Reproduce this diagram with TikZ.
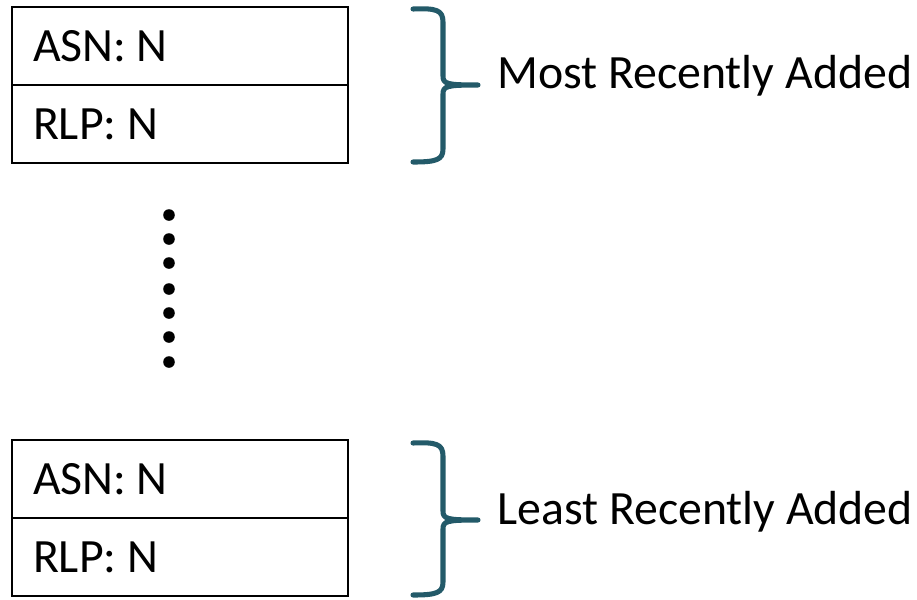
\documentclass[tikz,border=0pt]{standalone}
\usepackage{fontspec}
\setmainfont{Carlito}
\definecolor{bracecol}{RGB}{35,90,105}

\tikzset{
  cell/.style={draw, line width=1.1pt, minimum width=8.4cm, minimum height=1.95cm,
    inner xsep=0.525cm, text width=7.35cm, align=left, outer sep=0pt},
  bracepath/.style={draw=bracecol, line width=3.6pt, line cap=round, line join=round},
}
\newcommand{\cellgap}{\kern0.22em}

\begin{document}
\begin{tikzpicture}[x=0.025cm, y=-0.025cm, font=\fontsize{34pt}{40pt}\selectfont]
  \useasboundingbox (0,0) rectangle (917,600);
  % top pair of cells
  \node [cell, anchor=north west] (asnTop) at (12,7) {ASN:\cellgap N};
  \node [cell, anchor=north] (rlpTop) at (asnTop.south) {RLP:\cellgap N};
  % bottom pair of cells
  \node [cell, anchor=north west] (asnBot) at (12,440) {ASN:\cellgap N};
  \node [cell, anchor=north] (rlpBot) at (asnBot.south) {RLP:\cellgap N};
  % dots in between
  \foreach \y in {215,239,263,289,313,337,362}
    \fill (169,\y) circle [radius=5.8];
  % braces
  \draw [bracepath]
    (413,9) .. controls (436,8) and (443,10) .. (443,22)
    -- (443,76) .. controls (443,84) and (447,85) .. (478,85)
    (443,94) .. controls (443,86) and (447,85) .. (478,85)
    (443,94) -- (443,149) .. controls (443,160) and (436,162) .. (413,162);
  \draw [bracepath]
    (413,443) .. controls (436,442) and (443,444) .. (443,456)
    -- (443,511) .. controls (443,519) and (447,520) .. (478,520)
    (443,529) .. controls (443,521) and (447,520) .. (478,520)
    (443,529) -- (443,582) .. controls (443,593) and (436,595) .. (413,595);
  \node [anchor=base west, inner sep=0pt] (lblTop) at (497,88) {Most Recently Added};
  \node [anchor=base west, inner sep=0pt] (lblBot) at (497,524) {Least Recently Added};
\end{tikzpicture}
\end{document}
